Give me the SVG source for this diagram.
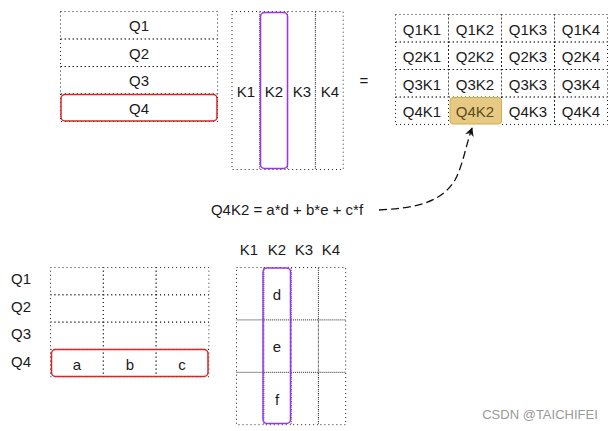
<svg xmlns="http://www.w3.org/2000/svg" width="614" height="431" viewBox="0 0 614 431">
<defs>
<style>
text{font-family:"Liberation Sans",Arial,sans-serif;font-size:15px;fill:#1a1a1a;text-anchor:middle;dominant-baseline:central}
.c{fill:none;stroke:#222;stroke-width:1;stroke-dasharray:1 3}
.red{fill:none;stroke:#d82626;stroke-width:1.5}
.pur{fill:none;stroke:#9b33ee;stroke-width:1.5}
.hl{fill:#e6ca84;stroke:#d2ac48;stroke-width:1}
.wm{font-size:13px;fill:#9a9a9a}
</style>
<marker id="ah" viewBox="0 0 10 10" refX="9" refY="5" markerWidth="9" markerHeight="9" orient="auto" markerUnits="userSpaceOnUse">
<path d="M0,0 L10,5 L0,10 L3,5 Z" fill="#111"/>
</marker>
</defs>
<rect width="614" height="431" fill="#fff"/>

<g id="topQ">
<rect class="c" x="60.5" y="11.5" width="157" height="27.5"/>
<rect class="c" x="60.5" y="39" width="157" height="27.5"/>
<rect class="c" x="60.5" y="66.5" width="157" height="27.5"/>
<rect class="c" x="60.5" y="94" width="157" height="27.5"/>
<rect class="red" x="61" y="94.5" width="156" height="26.5" rx="4"/>
<text x="139" y="25">Q1</text>
<text x="139" y="53">Q2</text>
<text x="139" y="80">Q3</text>
<text x="139" y="108">Q4</text>
</g>

<g id="topK">
<rect class="c" x="232" y="11.5" width="27.8" height="158"/>
<rect class="c" x="259.8" y="11.5" width="27.8" height="158"/>
<rect class="c" x="287.6" y="11.5" width="27.8" height="158"/>
<rect class="c" x="315.4" y="11.5" width="27.8" height="158"/>
<rect class="pur" x="260.5" y="12.5" width="27" height="156" rx="4"/>
<text x="246" y="91">K1</text>
<text x="274" y="91">K2</text>
<text x="302" y="91">K3</text>
<text x="330" y="91">K4</text>
</g>

<g id="equals"><text x="364" y="80">=</text></g>

<g id="result">
<rect class="c" x="395.5" y="14.5" width="53" height="27.5"/>
<rect class="c" x="448.5" y="14.5" width="53" height="27.5"/>
<rect class="c" x="501.5" y="14.5" width="53" height="27.5"/>
<rect class="c" x="554.5" y="14.5" width="53" height="27.5"/>
<rect class="c" x="395.5" y="42" width="53" height="27.5"/>
<rect class="c" x="448.5" y="42" width="53" height="27.5"/>
<rect class="c" x="501.5" y="42" width="53" height="27.5"/>
<rect class="c" x="554.5" y="42" width="53" height="27.5"/>
<rect class="c" x="395.5" y="69.5" width="53" height="27.5"/>
<rect class="c" x="448.5" y="69.5" width="53" height="27.5"/>
<rect class="c" x="501.5" y="69.5" width="53" height="27.5"/>
<rect class="c" x="554.5" y="69.5" width="53" height="27.5"/>
<rect class="c" x="395.5" y="97" width="53" height="27.5"/>
<rect class="c" x="501.5" y="97" width="53" height="27.5"/>
<rect class="c" x="554.5" y="97" width="53" height="27.5"/>
<rect class="hl" x="450" y="97.5" width="51.5" height="26.5" rx="3"/>
<text x="422" y="29">Q1K1</text><text x="475" y="29">Q1K2</text><text x="528" y="29">Q1K3</text><text x="581" y="29">Q1K4</text>
<text x="422" y="56">Q2K1</text><text x="475" y="56">Q2K2</text><text x="528" y="56">Q2K3</text><text x="581" y="56">Q2K4</text>
<text x="422" y="84">Q3K1</text><text x="475" y="84">Q3K2</text><text x="528" y="84">Q3K3</text><text x="581" y="84">Q3K4</text>
<text x="422" y="111">Q4K1</text><text x="475" y="111" style="fill:#5c4b1e">Q4K2</text><text x="528" y="111">Q4K3</text><text x="581" y="111">Q4K4</text>
</g>

<g id="formula"><text x="287" y="209">Q4K2 = a*d + b*e + c*f</text></g>

<g id="connectors">
<path d="M379,210 C410,208 440,205 455,180 C463,165 466,145 472,128" fill="none" stroke="#111" stroke-width="1.3" stroke-dasharray="8 4" marker-end="url(#ah)"/>
</g>

<g id="bottomQ">
<rect class="c" x="50.5" y="267.5" width="52.8" height="27.3"/>
<rect class="c" x="103.3" y="267.5" width="52.8" height="27.3"/>
<rect class="c" x="156.1" y="267.5" width="52.8" height="27.3"/>
<rect class="c" x="50.5" y="294.8" width="52.8" height="27.3"/>
<rect class="c" x="103.3" y="294.8" width="52.8" height="27.3"/>
<rect class="c" x="156.1" y="294.8" width="52.8" height="27.3"/>
<rect class="c" x="50.5" y="322.1" width="52.8" height="27.3"/>
<rect class="c" x="103.3" y="322.1" width="52.8" height="27.3"/>
<rect class="c" x="156.1" y="322.1" width="52.8" height="27.3"/>
<rect class="c" x="50.5" y="349.4" width="52.8" height="27.3"/>
<rect class="c" x="103.3" y="349.4" width="52.8" height="27.3"/>
<rect class="c" x="156.1" y="349.4" width="52.8" height="27.3"/>
<rect class="red" x="51.5" y="349.5" width="156.5" height="27" rx="4"/>
<text x="21" y="278">Q1</text>
<text x="21" y="306">Q2</text>
<text x="21" y="333">Q3</text>
<text x="21" y="361">Q4</text>
<text x="77" y="364">a</text>
<text x="130" y="364">b</text>
<text x="182" y="364">c</text>
</g>

<g id="bottomK">
<rect class="c" x="236.5" y="267.5" width="27.3" height="52.4"/>
<rect class="c" x="263.8" y="267.5" width="27.3" height="52.4"/>
<rect class="c" x="291.1" y="267.5" width="27.3" height="52.4"/>
<rect class="c" x="318.4" y="267.5" width="27.3" height="52.4"/>
<rect class="c" x="236.5" y="319.9" width="27.3" height="52.4"/>
<rect class="c" x="263.8" y="319.9" width="27.3" height="52.4"/>
<rect class="c" x="291.1" y="319.9" width="27.3" height="52.4"/>
<rect class="c" x="318.4" y="319.9" width="27.3" height="52.4"/>
<rect class="c" x="236.5" y="372.3" width="27.3" height="52.4"/>
<rect class="c" x="263.8" y="372.3" width="27.3" height="52.4"/>
<rect class="c" x="291.1" y="372.3" width="27.3" height="52.4"/>
<rect class="c" x="318.4" y="372.3" width="27.3" height="52.4"/>
<rect class="pur" x="263" y="268" width="27.5" height="155.5" rx="4"/>
<text x="249" y="249">K1</text>
<text x="277" y="249">K2</text>
<text x="304" y="249">K3</text>
<text x="331" y="249">K4</text>
<text x="277" y="294">d</text>
<text x="277" y="346">e</text>
<text x="277" y="399">f</text>
</g>

<g id="watermark"><text class="wm" x="540" y="414">CSDN @TAICHIFEI</text></g>
</svg>
